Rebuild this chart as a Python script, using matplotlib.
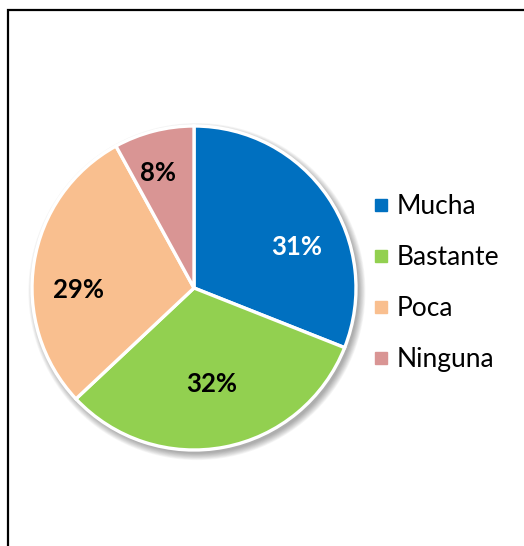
import matplotlib
matplotlib.use("Agg")
import matplotlib.pyplot as plt
from matplotlib.lines import Line2D
from matplotlib.patches import Circle, Rectangle
import numpy as np

categories = ["Mucha", "Bastante", "Poca", "Ninguna"]
values = [31, 32, 29, 8]
colors = ["#0070C0", "#92D050", "#F9BF8F", "#D99594"]
label_colors = ["white", "black", "black", "black"]
# label placement (angle in degrees, radius fraction)
label_angles = [21.9, -79.4, 181, 107.3]
label_radii = [0.68, 0.60, 0.71, 0.745]

plt.rcParams['font.family'] = ['Lato', 'DejaVu Sans']

W, H = 524, 546
fig = plt.figure(figsize=(W / 100, H / 100), dpi=100)
fig.patch.set_facecolor("white")

# outer frame
fig.patches.append(Rectangle((7.5 / W, -0.1), 1.2, 1 - 9.5 / H + 0.1,
                             transform=fig.transFigure, fill=False,
                             edgecolor="black", linewidth=1.6))

R = 162
cx, cy = 194, 288
half = 1.1 * R
ax = fig.add_axes([(cx - half) / W, (H - cy - half) / H, 2 * half / W, 2 * half / H])

# soft shadow
for i in range(10):
    ax.add_patch(Circle((0.018, -0.022), 1.0 + 0.0045 * i, color="black",
                        alpha=0.035, lw=0, zorder=0))

wedges, _ = ax.pie(values, colors=colors, startangle=90, counterclock=False,
                   radius=1.0, wedgeprops=dict(edgecolor="white", linewidth=2.4),
                   normalize=True)
for w in wedges:
    w.set_zorder(2)
ax.set_xlim(-1.1, 1.1)
ax.set_ylim(-1.1, 1.1)
ax.set_aspect("equal")
ax.axis("off")

total = sum(values)
for v, a, r, c in zip(values, label_angles, label_radii, label_colors):
    ax.text(r * np.cos(np.radians(a)), r * np.sin(np.radians(a)),
            f"{round(100 * v / total)}%", ha="center", va="center",
            fontsize=18.5, fontweight="bold", color=c, zorder=5)

handles = [Line2D([0], [0], marker="s", linestyle="none", markersize=8.2,
                  markerfacecolor=col, markeredgecolor=col) for col in colors]
fig.legend(handles, categories, loc="center left",
           bbox_to_anchor=(373 / W, 1 - 283 / H), frameon=False,
           fontsize=19, handlelength=0.6, handletextpad=0.28,
           labelspacing=0.98, borderpad=0, borderaxespad=0)

fig.savefig("out.png", dpi=100)
